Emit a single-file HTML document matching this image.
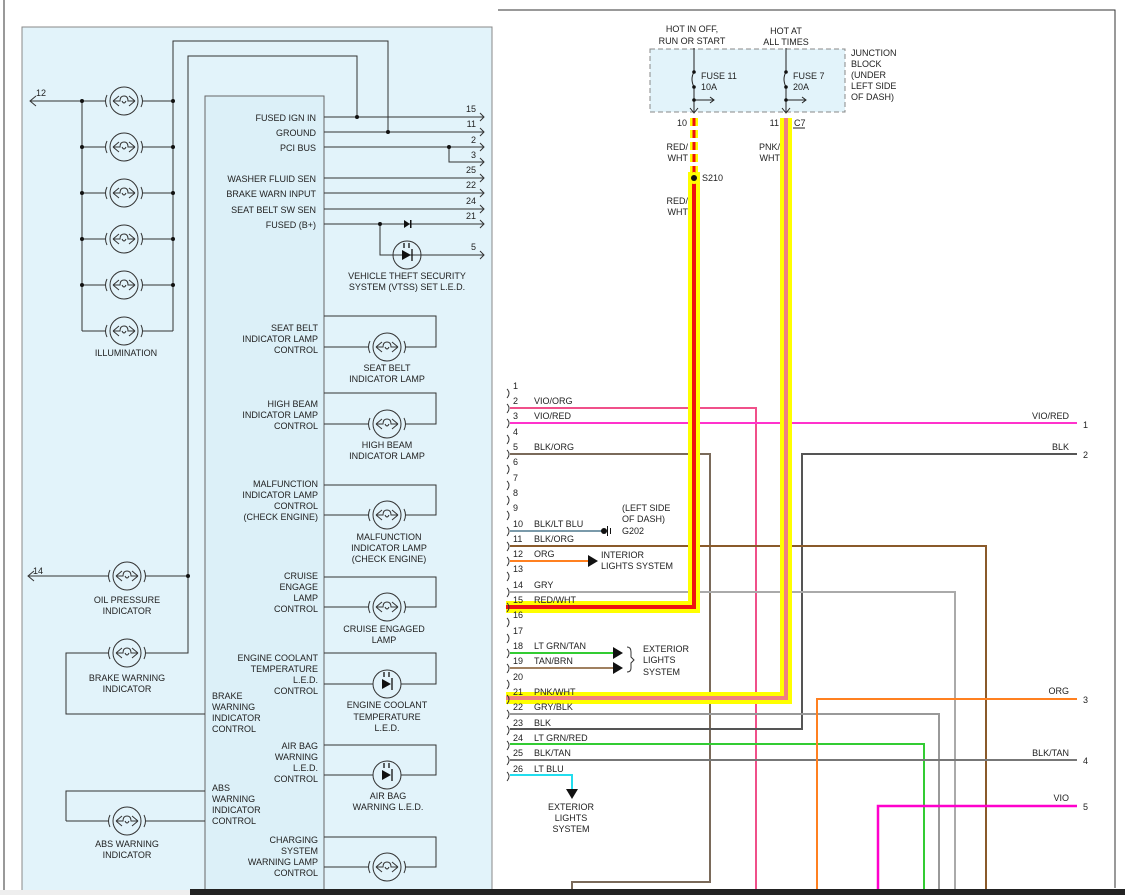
<!DOCTYPE html>
<html><head><meta charset="utf-8"><style>
html,body{margin:0;padding:0;background:#fff;}
svg{display:block;font-family:"Liberation Sans",sans-serif;font-size:9px;}
</style></head><body>
<svg width="1125" height="895" viewBox="0 0 1125 895" xmlns="http://www.w3.org/2000/svg">
<defs>
<g id="lamp"><circle r="14" fill="none" stroke="#333" stroke-width="1"/><path d="M-17,-6 Q-20,0 -17,6 M17,-6 Q20,0 17,6 M-11,0 L-5,-5 M-11,0 L-5,5 M11,0 L5,-5 M11,0 L5,5 M-11,0 H-4 Q-4,-5 0,-5 Q4,-5 4,0 H11 M-2,0 Q0,4 2,0" fill="none" stroke="#333" stroke-width="1"/></g>
<g id="led"><circle r="14" fill="none" stroke="#333" stroke-width="1"/><path d="M-5,-5 L4,0 L-5,5Z" fill="#111"/><path d="M5,-6 V6 M-3,-12 V-7 M2,-12 V-7" stroke="#111" stroke-width="1.3"/></g>
<path id="br" d="M0,0 Q4,4 0,9" fill="none" stroke="#333"/>
</defs>
<line x1="4" y1="0" x2="4" y2="890" stroke="#333"/>
<rect x="22" y="27" width="470" height="870" fill="#e2f3fa" stroke="#888"/>
<rect x="205" y="96" width="119" height="800" fill="#dcf0f8" stroke="#666"/>
<g stroke="#333" fill="none" stroke-width="1">
<path d="M36,96 L30,101 L36,106 M30,101 H82"/>
<line x1="82" y1="101" x2="82" y2="331"/><line x1="173" y1="101" x2="173" y2="331"/>
<path d="M82,101 H106 M142,101 H173 M82,147 H106 M142,147 H173 M82,193 H106 M142,193 H173 M82,239 H106 M142,239 H173 M82,285 H106 M142,285 H173 M82,331 H106 M142,331 H173"/>
<path d="M173,101 V41 H388 V132"/>
<path d="M188,575 V56 H357 V117"/>
<path d="M324,117 H484 M324,132 H484 M324,147 H484 M449,147 V162 H484 M324,178 H484 M324,193 H484 M324,209 H484 M324,224 H484 M380,224 V255 H484"/>
<path d="M480,113 L484,117 L480,121 M480,128 L484,132 L480,136 M480,143 L484,147 L480,151 M480,158 L484,162 L480,166 M480,174 L484,178 L480,182 M480,189 L484,193 L480,197 M480,205 L484,209 L480,213 M480,220 L484,224 L480,228 M480,251 L484,255 L480,259"/>
<path d="M324,316 H436 V347 H405 M369,347 H324"/>
<path d="M324,393 H436 V424 H405 M369,424 H324"/>
<path d="M324,485 H436 V515 H405 M369,515 H324"/>
<path d="M324,577 H436 V607 H405 M369,607 H324"/>
<path d="M324,653 H436 V684 H401 M373,684 H324"/>
<path d="M324,745 H436 V775 H401 M373,775 H324"/>
<path d="M324,837 H436 V867 H405 M369,867 H324"/>
<path d="M28,576 H109 M145,576 H188"/><path d="M34,571 L28,576 L34,581"/>
<path d="M188,575 V653 H145 M109,653 H66 V714 H205"/>
<path d="M66,821 V791 H205 M66,821 H109 M145,821 H205"/>
</g>
<g fill="#111">
<circle cx="82" cy="101" r="2"/><circle cx="173" cy="101" r="2"/>
<circle cx="82" cy="147" r="2"/><circle cx="173" cy="147" r="2"/>
<circle cx="82" cy="193" r="2"/><circle cx="173" cy="193" r="2"/>
<circle cx="82" cy="239" r="2"/><circle cx="173" cy="239" r="2"/>
<circle cx="82" cy="285" r="2"/><circle cx="173" cy="285" r="2"/>
<circle cx="357" cy="117" r="2"/><circle cx="388" cy="132" r="2"/><circle cx="449" cy="147" r="2"/><circle cx="380" cy="224" r="2"/><circle cx="188" cy="576" r="2"/>
<path d="M404,220 V228 L410,224Z"/><rect x="410" y="220" width="1.5" height="8"/>
</g>
<use href="#lamp" x="124" y="101"/><use href="#lamp" x="124" y="147"/><use href="#lamp" x="124" y="193"/><use href="#lamp" x="124" y="239"/><use href="#lamp" x="124" y="285"/><use href="#lamp" x="124" y="331"/>
<use href="#lamp" x="127" y="576"/><use href="#lamp" x="127" y="653"/><use href="#lamp" x="127" y="821"/>
<use href="#lamp" x="387" y="347"/><use href="#lamp" x="387" y="424"/><use href="#lamp" x="387" y="515"/><use href="#lamp" x="387" y="607"/><use href="#lamp" x="387" y="867"/>
<use href="#led" x="387" y="684"/><use href="#led" x="387" y="775"/><use href="#led" x="407" y="255"/>
<g fill="#222">
<text x="36" y="96">12</text><text x="33" y="574">14</text>
<text x="126" y="356" text-anchor="middle">ILLUMINATION</text>
<text x="127" y="603" text-anchor="middle">OIL PRESSURE</text><text x="127" y="614" text-anchor="middle">INDICATOR</text>
<text x="127" y="681" text-anchor="middle">BRAKE WARNING</text><text x="127" y="692" text-anchor="middle">INDICATOR</text>
<text x="127" y="847" text-anchor="middle">ABS WARNING</text><text x="127" y="858" text-anchor="middle">INDICATOR</text>
<g text-anchor="end">
<text x="316" y="121">FUSED IGN IN</text><text x="316" y="136">GROUND</text><text x="316" y="151">PCI BUS</text>
<text x="316" y="182">WASHER FLUID SEN</text><text x="316" y="197">BRAKE WARN INPUT</text><text x="316" y="213">SEAT BELT SW SEN</text><text x="316" y="228">FUSED (B+)</text>
<text x="318" y="331">SEAT BELT</text><text x="318" y="342">INDICATOR LAMP</text><text x="318" y="353">CONTROL</text>
<text x="318" y="407">HIGH BEAM</text><text x="318" y="418">INDICATOR LAMP</text><text x="318" y="429">CONTROL</text>
<text x="318" y="487">MALFUNCTION</text><text x="318" y="498">INDICATOR LAMP</text><text x="318" y="509">CONTROL</text><text x="318" y="520">(CHECK ENGINE)</text>
<text x="318" y="579">CRUISE</text><text x="318" y="590">ENGAGE</text><text x="318" y="601">LAMP</text><text x="318" y="612">CONTROL</text>
<text x="318" y="661">ENGINE COOLANT</text><text x="318" y="672">TEMPERATURE</text><text x="318" y="683">L.E.D.</text><text x="318" y="694">CONTROL</text>
<text x="318" y="749">AIR BAG</text><text x="318" y="760">WARNING</text><text x="318" y="771">L.E.D.</text><text x="318" y="782">CONTROL</text>
<text x="318" y="843">CHARGING</text><text x="318" y="854">SYSTEM</text><text x="318" y="865">WARNING LAMP</text><text x="318" y="876">CONTROL</text>
<text x="476" y="112">15</text><text x="476" y="127">11</text><text x="476" y="143">2</text><text x="476" y="158">3</text><text x="476" y="173">25</text><text x="476" y="188">22</text><text x="476" y="204">24</text><text x="476" y="219">21</text><text x="476" y="250">5</text>
</g>
<text x="212" y="699">BRAKE</text><text x="212" y="710">WARNING</text><text x="212" y="721">INDICATOR</text><text x="212" y="732">CONTROL</text>
<text x="212" y="791">ABS</text><text x="212" y="802">WARNING</text><text x="212" y="813">INDICATOR</text><text x="212" y="824">CONTROL</text>
<g text-anchor="middle">
<text x="407" y="279">VEHICLE THEFT SECURITY</text><text x="407" y="290">SYSTEM (VTSS) SET L.E.D.</text>
<text x="387" y="371">SEAT BELT</text><text x="387" y="382">INDICATOR LAMP</text>
<text x="387" y="448">HIGH BEAM</text><text x="387" y="459">INDICATOR LAMP</text>
<text x="389" y="540">MALFUNCTION</text><text x="389" y="551">INDICATOR LAMP</text><text x="389" y="562">(CHECK ENGINE)</text>
<text x="384" y="632">CRUISE ENGAGED</text><text x="384" y="643">LAMP</text>
<text x="387" y="708">ENGINE COOLANT</text><text x="387" y="720">TEMPERATURE</text><text x="387" y="731">L.E.D.</text>
<text x="388" y="799">AIR BAG</text><text x="388" y="810">WARNING L.E.D.</text>
</g>
</g>
<path d="M498,10 H1115 V888" fill="none" stroke="#333"/>
<rect x="650" y="49" width="195" height="63" fill="#e2f3fa" stroke="#888" stroke-dasharray="5,3"/>
<g stroke="#222" fill="none">
<path d="M694,48 V72 M694,87 V112 M694,72 Q690,79 694,87 M694,100 H714 M786,48 V72 M786,87 V112 M786,72 Q782,79 786,87 M786,100 H806"/>
<path d="M710,97 L714,100 L710,103 M802,97 L806,100 L802,103 M690,108 L694,113 L698,108 M782,108 L786,113 L790,108"/>
<line x1="793" y1="128" x2="805" y2="128"/>
</g>
<g fill="#111"><circle cx="694" cy="72" r="1.8"/><circle cx="694" cy="87" r="1.8"/><circle cx="694" cy="100" r="1.8"/><circle cx="786" cy="72" r="1.8"/><circle cx="786" cy="87" r="1.8"/><circle cx="786" cy="100" r="1.8"/></g>
<g fill="#222">
<text x="692" y="32" text-anchor="middle">HOT IN OFF,</text><text x="692" y="44" text-anchor="middle">RUN OR START</text>
<text x="786" y="34" text-anchor="middle">HOT AT</text><text x="786" y="45" text-anchor="middle">ALL TIMES</text>
<text x="701" y="79">FUSE 11</text><text x="701" y="90">10A</text><text x="793" y="79">FUSE 7</text><text x="793" y="90">20A</text>
<text x="851" y="56">JUNCTION</text><text x="851" y="67">BLOCK</text><text x="851" y="78">(UNDER</text><text x="851" y="89">LEFT SIDE</text><text x="851" y="100">OF DASH)</text>
<g text-anchor="end"><text x="687" y="126">10</text><text x="779" y="126">11</text>
<text x="688" y="150">RED/</text><text x="688" y="161">WHT</text><text x="688" y="204">RED/</text><text x="688" y="215">WHT</text>
<text x="780" y="150">PNK/</text><text x="780" y="161">WHT</text></g>
<text x="794" y="126">C7</text><text x="702" y="181">S210</text>
</g>
<g fill="none" stroke-width="2">
<path d="M510,408 H756 V895" stroke="#f0508a"/>
<path d="M510,423 H1077" stroke="#ff33cc"/>
<path d="M510,454 H710 V882 H572 V895" stroke="#7a6a5a"/>
<path d="M1077,454 H802 V729 H510" stroke="#555"/>
<path d="M510,531 H602" stroke="#7a9aaa"/>
<path d="M510,546 H986 V895" stroke="#8a5a2a"/>
<path d="M510,561 H590" stroke="#ff8020"/>
<path d="M510,592 H955 V895" stroke="#aaa"/>
<path d="M510,653 H615" stroke="#33cc33"/>
<path d="M510,668 H615" stroke="#a08060"/>
<path d="M510,714 H939 V895" stroke="#999"/>
<path d="M510,744 H924 V895" stroke="#33cc33"/>
<path d="M510,760 H1077" stroke="#777"/>
<path d="M510,775 H572 V790" stroke="#22ddee"/>
<path d="M1077,699 H817 V895" stroke="#ff8020"/>
<path d="M1077,806 H878 V895" stroke="#ff00cc" stroke-width="2.5"/>
</g>
<g fill="none">
<path d="M694,172 V607 H506" stroke="#ffff00" stroke-width="12"/>
<path d="M694,172 V607 H506" stroke="#ee1111" stroke-width="4"/>
<path d="M694,118 V172" stroke="#ffff00" stroke-width="8" stroke-dasharray="8,4"/>
<path d="M694,118 V172" stroke="#ee1111" stroke-width="3" stroke-dasharray="8,4"/>
<path d="M786,118 V698 H506" stroke="#ffff00" stroke-width="12"/>
<path d="M786,118 V698 H506" stroke="#f08080" stroke-width="4"/>
</g>
<circle cx="694" cy="178" r="6" fill="#ffff00"/><circle cx="694" cy="178" r="3" fill="#111"/>
<g fill="#111">
<path d="M588,555 L598,561 L588,567Z"/><path d="M613,647 L623,653 L613,659Z"/><path d="M613,662 L623,668 L613,674Z"/><path d="M566,789 L578,789 L572,799Z"/>
<circle cx="604" cy="531" r="3"/><rect x="607" y="526" width="1" height="10"/><rect x="610" y="528" width="1" height="6"/>
</g>
<path d="M627,647 Q631,647 631,652 V657 L634,660 L631,663 V668 Q631,672 627,672" fill="none" stroke="#333"/>
<g>
<use href="#br" x="507" y="389"/><use href="#br" x="507" y="404"/><use href="#br" x="507" y="419"/><use href="#br" x="507" y="435"/><use href="#br" x="507" y="450"/><use href="#br" x="507" y="465"/><use href="#br" x="507" y="481"/><use href="#br" x="507" y="496"/><use href="#br" x="507" y="511"/><use href="#br" x="507" y="527"/><use href="#br" x="507" y="542"/><use href="#br" x="507" y="557"/><use href="#br" x="507" y="572"/><use href="#br" x="507" y="588"/><use href="#br" x="507" y="603"/><use href="#br" x="507" y="618"/><use href="#br" x="507" y="634"/><use href="#br" x="507" y="649"/><use href="#br" x="507" y="664"/><use href="#br" x="507" y="680"/><use href="#br" x="507" y="695"/><use href="#br" x="507" y="710"/><use href="#br" x="507" y="726"/><use href="#br" x="507" y="741"/><use href="#br" x="507" y="756"/><use href="#br" x="507" y="772"/>
</g>
<g fill="#222">
<text x="513" y="389">1</text><text x="513" y="404">2</text><text x="513" y="419">3</text><text x="513" y="435">4</text><text x="513" y="450">5</text><text x="513" y="465">6</text><text x="513" y="481">7</text><text x="513" y="496">8</text><text x="513" y="511">9</text><text x="513" y="527">10</text><text x="513" y="542">11</text><text x="513" y="557">12</text><text x="513" y="572">13</text><text x="513" y="588">14</text><text x="513" y="603">15</text><text x="513" y="618">16</text><text x="513" y="634">17</text><text x="513" y="649">18</text><text x="513" y="664">19</text><text x="513" y="680">20</text><text x="513" y="695">21</text><text x="513" y="710">22</text><text x="513" y="726">23</text><text x="513" y="741">24</text><text x="513" y="756">25</text><text x="513" y="772">26</text>
<text x="534" y="404">VIO/ORG</text><text x="534" y="419">VIO/RED</text><text x="534" y="450">BLK/ORG</text><text x="534" y="527">BLK/LT BLU</text><text x="534" y="542">BLK/ORG</text><text x="534" y="557">ORG</text><text x="534" y="588">GRY</text><text x="534" y="603">RED/WHT</text><text x="534" y="649">LT GRN/TAN</text><text x="534" y="664">TAN/BRN</text><text x="534" y="695">PNK/WHT</text><text x="534" y="710">GRY/BLK</text><text x="534" y="726">BLK</text><text x="534" y="741">LT GRN/RED</text><text x="534" y="756">BLK/TAN</text><text x="534" y="772">LT BLU</text>
<text x="622" y="511">(LEFT SIDE</text><text x="622" y="522">OF DASH)</text><text x="622" y="534">G202</text>
<text x="601" y="558">INTERIOR</text><text x="601" y="569">LIGHTS SYSTEM</text>
<text x="643" y="652">EXTERIOR</text><text x="643" y="663">LIGHTS</text><text x="643" y="675">SYSTEM</text>
<text x="571" y="810" text-anchor="middle">EXTERIOR</text><text x="571" y="821" text-anchor="middle">LIGHTS</text><text x="571" y="832" text-anchor="middle">SYSTEM</text>
<g text-anchor="end"><text x="1069" y="419">VIO/RED</text><text x="1069" y="450">BLK</text><text x="1069" y="694">ORG</text><text x="1069" y="756">BLK/TAN</text><text x="1069" y="801">VIO</text></g>
<text x="1083" y="428">1</text><text x="1083" y="458">2</text><text x="1083" y="703">3</text><text x="1083" y="764">4</text><text x="1083" y="810">5</text>
</g>
<rect x="0" y="890" width="190" height="5" fill="#eee"/>
<rect x="190" y="889" width="935" height="6" fill="#222"/>
</svg>
</body></html>
